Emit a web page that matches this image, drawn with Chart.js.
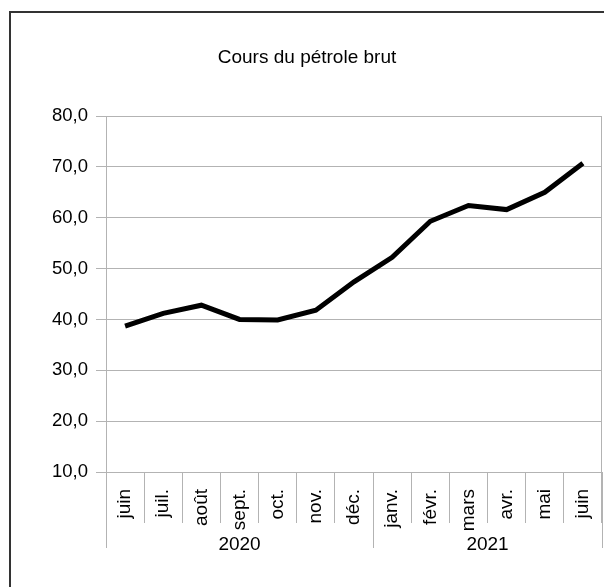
<!DOCTYPE html>
<html lang="fr">
<head>
<meta charset="utf-8">
<script src="https://cdn.jsdelivr.net/npm/chart.js@4/dist/chart.umd.min.js"></script>
<style>
  html, body { margin: 0; padding: 0; background: #fff; }
  canvas { display: block; }
</style>
</head>
<body>
<canvas id="petrole-chart" width="604" height="587"></canvas>
<script>
const titre = 'Cours du pétrole brut';
const mois = ['juin', 'juil.', 'août', 'sept.', 'oct.', 'nov.', 'déc.', 'janv.', 'févr.', 'mars', 'avr.', 'mai', 'juin'];
const cours = [38.7, 41.2, 42.8, 40.0, 39.9, 41.8, 47.4, 52.2, 59.3, 62.4, 61.6, 65.0, 70.7];
const annees = ['2020', '2021'];
const moisParAnnee = [7, 6];
const yMin = 10;
const yMax = 80;
const yPas = 10;

const gris = '#b3b3b3';
const police = 'Liberation Sans, Arial, sans-serif';

// cadre, titre, séparateurs d'années + libellés d'années
const groupesPlugin = {
  id: 'groupes',
  beforeDraw(chart) {
    const ctx = chart.ctx;
    ctx.save();
    ctx.fillStyle = '#fff';
    ctx.fillRect(0, 0, chart.width, chart.height);
    ctx.strokeStyle = '#333';
    ctx.lineWidth = 2;
    ctx.strokeRect(10, 12, 700, 700);
    ctx.restore();
  },
  afterDraw(chart) {
    const ctx = chart.ctx;
    const x = chart.scales.x;
    const area = chart.chartArea;
    const half = (x.getPixelForTick(1) - x.getPixelForTick(0)) / 2;
    const bord = i => i < mois.length ? x.getPixelForTick(i) - half : x.getPixelForTick(mois.length - 1) + half;
    const yHaut = area.bottom + 51;
    const yBas = area.bottom + 76;

    ctx.save();
    ctx.fillStyle = '#000';
    ctx.font = '19px ' + police;
    ctx.textAlign = 'center';
    ctx.textBaseline = 'middle';
    ctx.fillText(titre, 307, 58);

    ctx.strokeStyle = gris;
    ctx.lineWidth = 1;
    // bord droit du graphique
    ctx.beginPath();
    ctx.moveTo(Math.round(area.right) - 0.5, area.top);
    ctx.lineTo(Math.round(area.right) - 0.5, yHaut);
    ctx.stroke();

    let debut = 0;
    const limites = [0];
    moisParAnnee.forEach(n => { debut += n; limites.push(debut); });
    limites.forEach(b => {
      const px = Math.round(bord(b)) + 0.5;
      ctx.beginPath();
      ctx.moveTo(px, yHaut);
      ctx.lineTo(px, yBas);
      ctx.stroke();
    });

    annees.forEach((a, i) => {
      const cx = (bord(limites[i]) + bord(limites[i + 1])) / 2;
      ctx.fillText(a, cx, area.bottom + 73);
    });
    ctx.restore();
  }
};

new Chart(document.getElementById('petrole-chart'), {
  type: 'line',
  data: {
    labels: mois,
    datasets: [{
      label: titre,
      data: cours,
      borderColor: '#000',
      borderWidth: 5,
      pointRadius: 0,
      tension: 0,
      fill: false,
    }],
  },
  options: {
    responsive: false,
    animation: false,
    devicePixelRatio: 1,
    layout: { padding: { left: 0, right: 2, top: 116, bottom: 0 } },
    plugins: {
      legend: { display: false },
      tooltip: { enabled: false },
      title: { display: false },
    },
    scales: {
      x: {
        offset: true,
        grid: {
          display: true,
          offset: true,
          drawOnChartArea: false,
          tickLength: 51,
          color: gris,
        },
        border: { display: true, color: gris },
        ticks: {
          color: '#000',
          font: { family: police, size: 19 },
          minRotation: 90,
          maxRotation: 90,
          autoSkip: false,
          padding: -34,
        },
        afterFit: s => { s.height = 115; },
      },
      y: {
        min: yMin,
        max: yMax,
        grid: { color: gris, tickLength: 10 },
        border: { display: true, color: gris },
        ticks: {
          stepSize: yPas,
          color: '#000',
          font: { family: police, size: 18.5 },
          padding: 8,
          callback: v => v.toFixed(1).replace('.', ','),
        },
        afterFit: s => { s.width = 106; },
      },
    },
  },
  plugins: [groupesPlugin],
});
</script>
</body>
</html>
